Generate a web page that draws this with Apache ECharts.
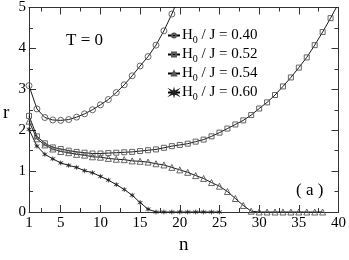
<!DOCTYPE html>
<html><head><meta charset="utf-8">
<script src="https://cdn.jsdelivr.net/npm/echarts@6/dist/echarts.min.js"></script>
<style>html,body{margin:0;padding:0;background:#fff}#c{width:349px;height:260px}</style>
</head><body><div id="c"></div>
<script>
const n040 = [1,2,3,4,5,6,7,8,9,10,11,12,13,14,15,16,17,18,19,20];
const r040 = [3.09,2.52,2.31,2.25,2.24,2.26,2.32,2.40,2.50,2.62,2.75,2.92,3.11,3.33,3.57,3.80,4.08,4.43,4.84,5.30];
const n052 = [1,2,3,4,5,6,7,8,9,10,11,12,13,14,15,16,17,18,19,20,21,22,23,24,25,26,27,28,29,30,31,32,33,34,35,36,37,38,39,40];
const r052 = [2.35,1.85,1.68,1.58,1.54,1.50,1.47,1.45,1.43,1.43,1.44,1.45,1.46,1.47,1.49,1.51,1.53,1.57,1.61,1.64,1.67,1.72,1.77,1.85,1.94,2.04,2.14,2.24,2.37,2.53,2.68,2.86,3.07,3.29,3.53,3.78,4.08,4.40,4.74,5.10];
const n054 = [1,2,3,4,5,6,7,8,9,10,11,12,13,14,15,16,17,18,19,20,21,22,23,24,25,26,27,28,29,30,31,32,33,34,35,36,37,38];
const r054 = [2.22,1.79,1.64,1.54,1.48,1.45,1.41,1.39,1.35,1.34,1.31,1.29,1.28,1.25,1.24,1.22,1.18,1.15,1.09,1.03,0.97,0.89,0.82,0.72,0.63,0.50,0.33,0.16,0.02,0,0,0,0,0,0,0,0,0];
const n060 = [1,2,3,4,5,6,7,8,9,10,11,12,13,14,15,16,17,18,19,20,21,22,23,24,25];
const r060 = [2.02,1.61,1.41,1.30,1.20,1.14,1.09,1.01,0.96,0.87,0.78,0.67,0.55,0.41,0.23,0.07,0,0,0,0,0,0,0,0,0];
const seriesNames = ['0.40','0.52','0.54','0.60'];
const xLabelValues = [1,5,10,15,20,25,30,35,40];
const xMajorTicks = [5,10,15,20,25,30,35];
const xMinorTicks = [2.5,7.5,12.5,17.5,22.5,27.5,32.5,37.5];

const FONT = 'Liberation Serif';
const star = 'path://M50,0 L58,38 L92,18 L66,50 L92,82 L58,62 L50,100 L42,62 L8,82 L34,50 L8,18 L42,38 Z';
const symbols = ['circle','rect','triangle',star];
const sizes = [6,5,6,5];
const datasets = [[n040,r040],[n052,r052],[n054,r054],[n060,r060]];

const series = datasets.map((d,i)=>({
  name: seriesNames[i],
  type: 'line',
  data: d[0].map((x,k)=>[x,d[1][k]]),
  symbol: symbols[i],
  symbolSize: sizes[i],
  showAllSymbol: true,
  clip: true,
  lineStyle: {color:'#000', width:0.9},
  itemStyle: i===3 ? {color:'#222', borderColor:'#222', borderWidth:0.3} : {color:'rgba(0,0,0,0)', borderColor:'#555', borderWidth:0.9},
  emphasis: {disabled:true},
  animation: false,
  z: 3
}));

const axisLine = {show:true, lineStyle:{color:'#333', width:1}};
const baseX = {type:'value', min:1, max:40, splitLine:{show:false}};
const chart = echarts.init(document.getElementById('c'), null, {renderer:'canvas'});
chart.setOption({
  animation:false,
  backgroundColor:'#fff',
  grid:{left:29, right:9, top:6, bottom:36, containLabel:false},
  xAxis:[
    Object.assign({}, baseX, {position:'bottom', axisLine,
      axisTick:{show:true, inside:true, length:7, customValues:xMajorTicks, lineStyle:{color:'#333'}},
      axisLabel:{customValues:xLabelValues, fontFamily:FONT, fontSize:15, color:'#000', margin:4},
      name:'n', nameLocation:'middle', nameGap:24, nameTextStyle:{fontFamily:FONT, fontSize:19, color:'#000'}}),
    Object.assign({}, baseX, {position:'bottom', axisLine:{show:false},
      axisTick:{show:true, inside:true, length:4, customValues:xMinorTicks, lineStyle:{color:'#333'}},
      axisLabel:{show:false}}),
    Object.assign({}, baseX, {position:'top', axisLine,
      axisTick:{show:true, inside:true, length:7, customValues:xMajorTicks, lineStyle:{color:'#333'}},
      axisLabel:{show:false}}),
    Object.assign({}, baseX, {position:'top', axisLine:{show:false},
      axisTick:{show:true, inside:true, length:4, customValues:xMinorTicks, lineStyle:{color:'#333'}},
      axisLabel:{show:false}})
  ],
  yAxis:[
    {type:'value', min:0, max:5, interval:1, position:'left', axisLine, splitLine:{show:false},
     axisTick:{show:true, inside:true, length:7, lineStyle:{color:'#333'}},
     minorTick:{show:true, splitNumber:2, length:4, lineStyle:{color:'#333'}},
     axisLabel:{fontFamily:FONT, fontSize:15, color:'#000', margin:3}},
    {type:'value', min:0, max:5, interval:1, position:'right', axisLine, splitLine:{show:false},
     axisTick:{show:true, inside:true, length:7, lineStyle:{color:'#333'}},
     minorTick:{show:true, splitNumber:2, length:4, lineStyle:{color:'#333'}},
     axisLabel:{show:false}}
  ],
  legend:{
    show:true, orient:'vertical', left:162, top:21, itemGap:0, itemWidth:12, itemHeight:5,
    data: seriesNames,
    formatter: (nm)=>'{a|H}{s|0}{a| / J = '+nm+'}',
    textStyle:{fontFamily:FONT, color:'#000', lineHeight:19, padding:[0,0,0,-3],
      rich:{a:{fontFamily:FONT, fontSize:15, color:'#000'}, s:{fontFamily:FONT, fontSize:10, color:'#000', padding:[9,0,0,0]}}},
    selectedMode:false
  },
  graphic:[
    {type:'text', left:3, top:104, style:{text:'r', font:'19px "Liberation Serif"', fill:'#000'}},
    {type:'text', left:66, top:32, style:{text:'T = 0', font:'17px "Liberation Serif"', fill:'#000'}},
    {type:'text', left:296, top:182, style:{text:'( a )', font:'17px "Liberation Serif"', fill:'#000'}}
  ],
  series
});
</script></body></html>
